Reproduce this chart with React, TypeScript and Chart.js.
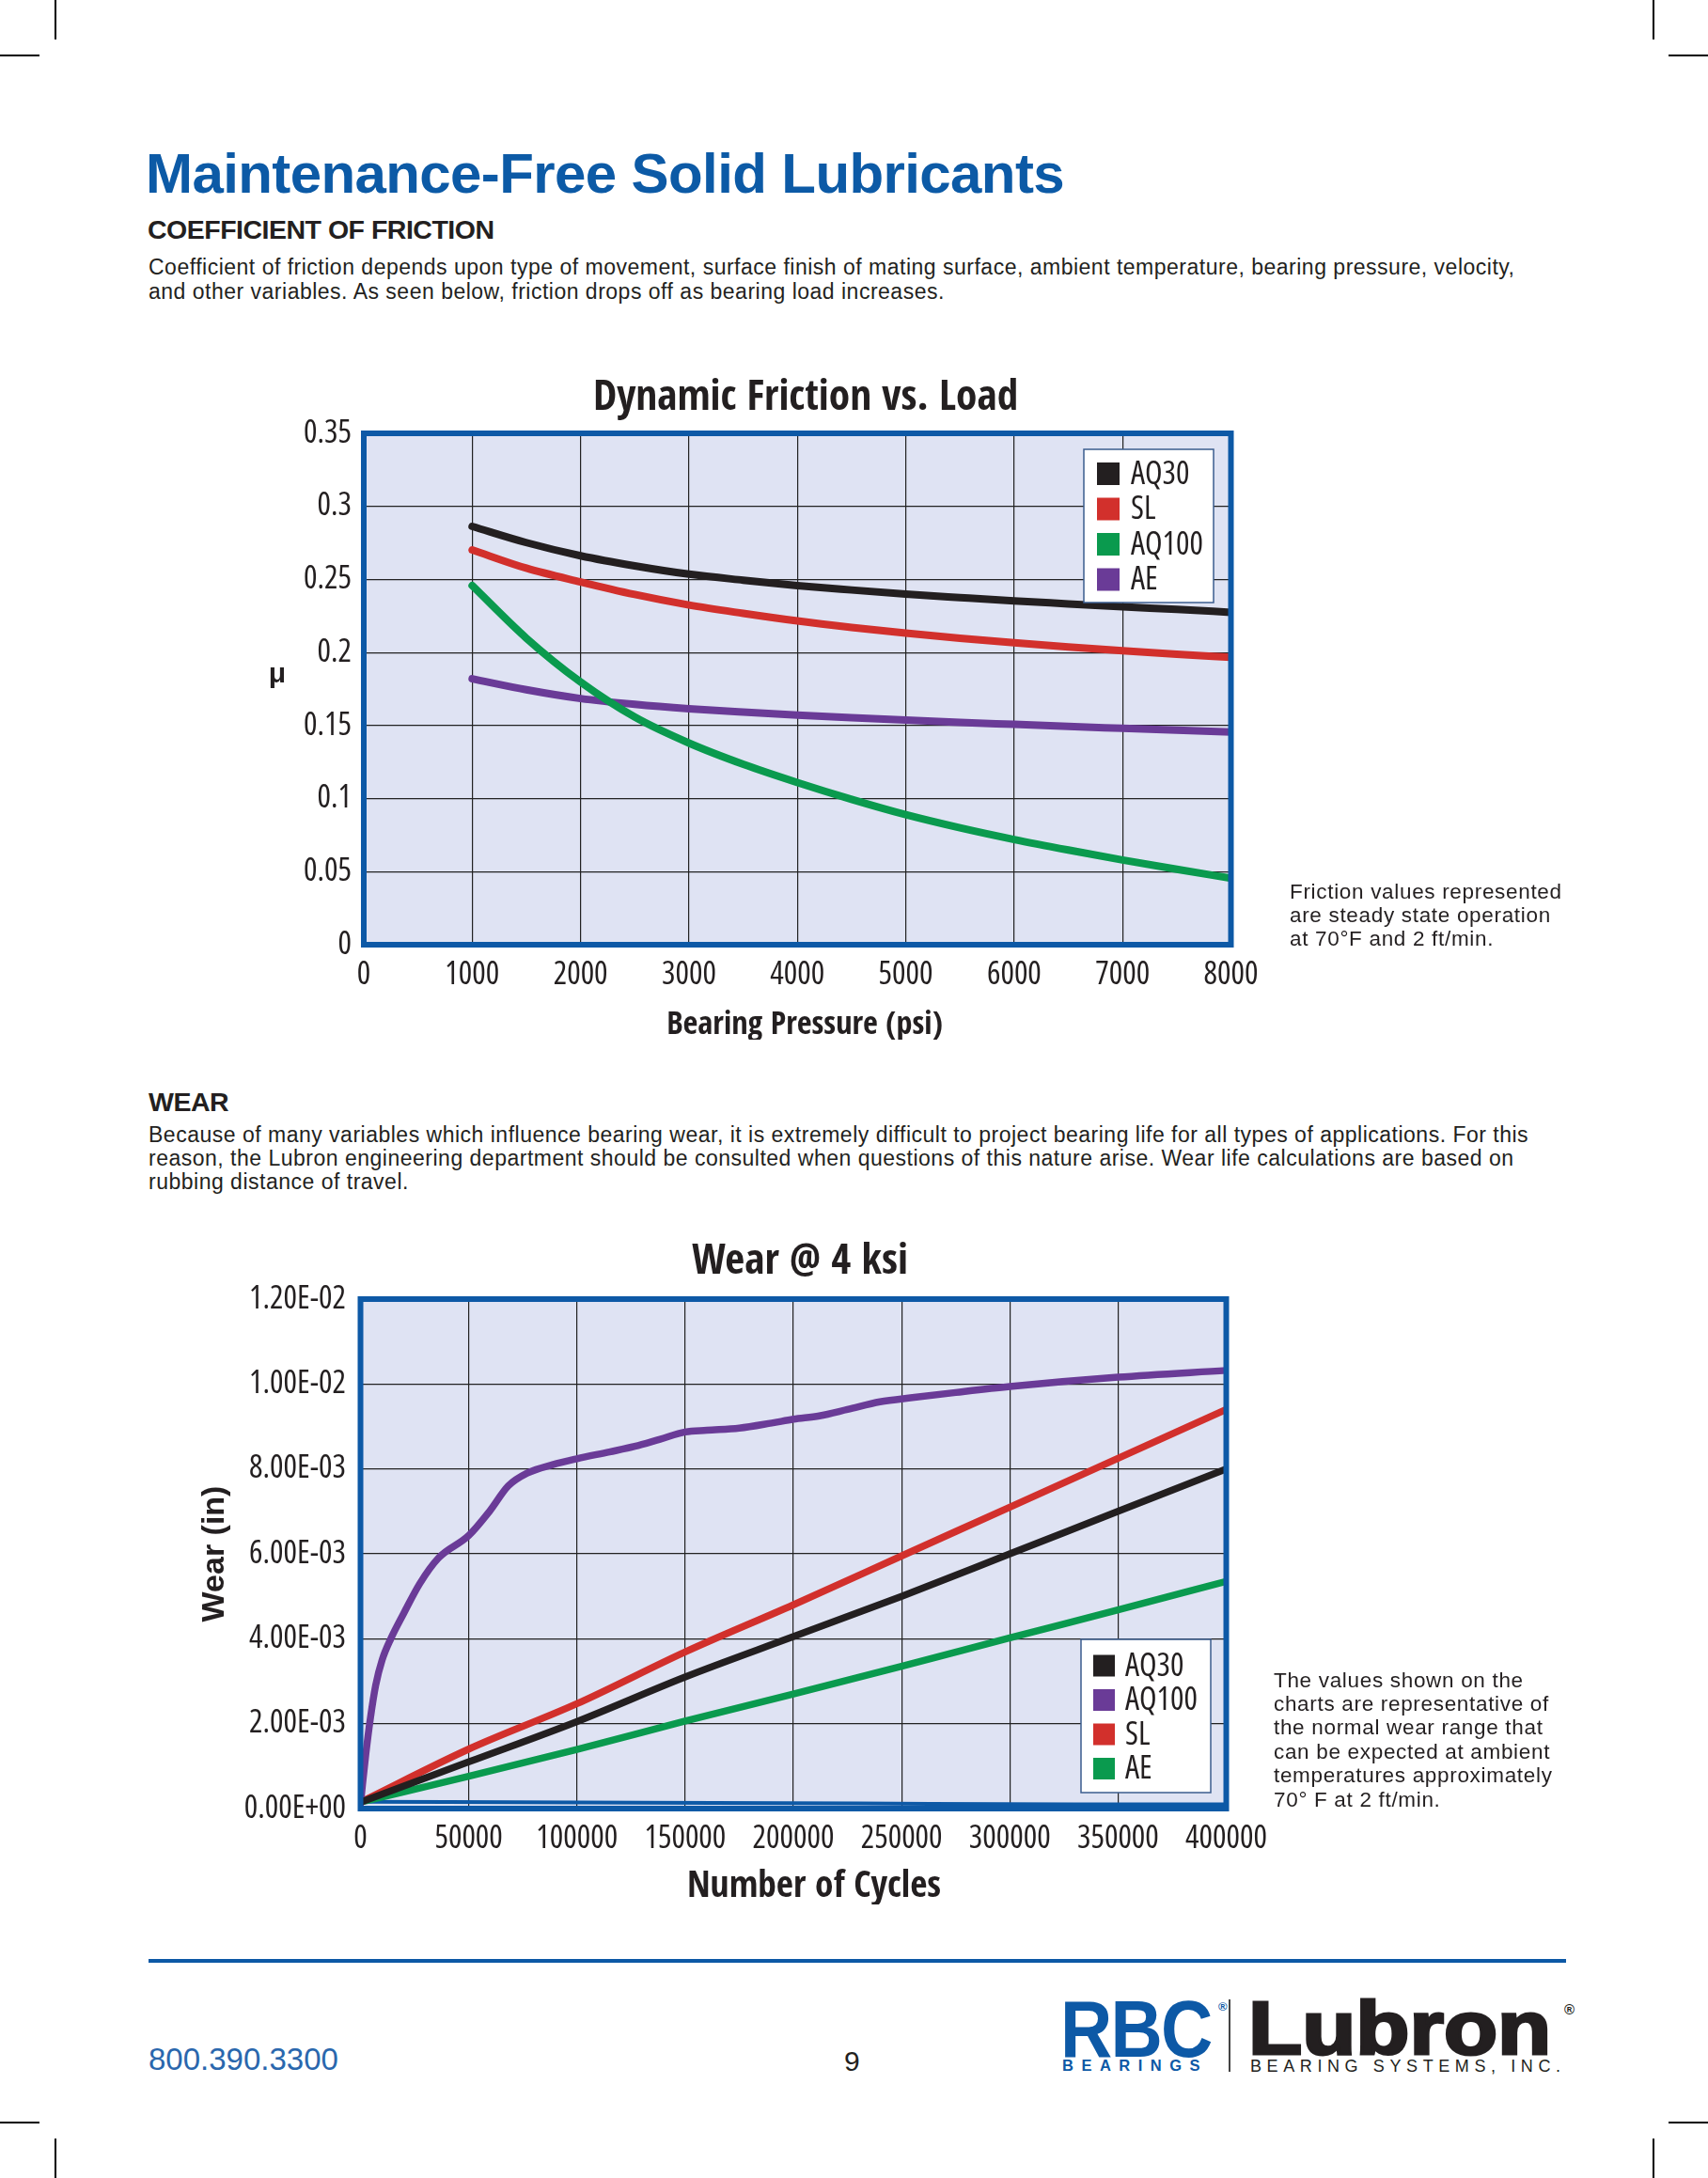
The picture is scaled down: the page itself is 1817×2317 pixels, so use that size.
import React, { useEffect, useRef } from 'react';
import { Chart, registerables } from 'chart.js';

Chart.register(...registerables);

const SANS = "'Liberation Sans', Arial, Helvetica, sans-serif";

const INK = '#231f20';
const BLUE = '#0d59a6';
const PLOT_BG = '#dfe3f3';
const GRID = '#222222';
const C_BLACK = '#231f20';
const C_RED = '#d2302c';
const C_GREEN = '#0a9a4e';
const C_PURPLE = '#6a3b97';

// ---------------- Chart 1: Dynamic Friction vs. Load ----------------
const frictionTitle = 'Dynamic Friction vs. Load';
const frictionXTitle = 'Bearing Pressure (psi)';
const frictionYTitle = 'μ';
const frictionPressure = [1000, 1500, 2000, 2500, 3000, 3500, 4000, 4500, 5000, 5500, 6000, 6500, 7000, 7500, 8000];
const frictionAQ30 = [0.2863, 0.2752, 0.2662, 0.2593, 0.2536, 0.2495, 0.2458, 0.2428, 0.2400, 0.2376, 0.2353, 0.2333, 0.2313, 0.2295, 0.2275];
const frictionSL = [0.2702, 0.2577, 0.2483, 0.2397, 0.2325, 0.2268, 0.2216, 0.2172, 0.2133, 0.2098, 0.2067, 0.2038, 0.2012, 0.1988, 0.1967];
const frictionAQ100 = [0.2458, 0.2098, 0.1798, 0.1558, 0.1380, 0.1235, 0.1110, 0.0995, 0.0890, 0.0800, 0.0720, 0.0648, 0.0580, 0.0516, 0.0455];
const frictionAE = [0.1820, 0.1745, 0.1685, 0.1645, 0.1615, 0.1592, 0.1572, 0.1554, 0.1537, 0.1522, 0.1508, 0.1494, 0.1481, 0.1468, 0.1455];
const frictionXTicks = [0, 1000, 2000, 3000, 4000, 5000, 6000, 7000, 8000];
const frictionXTickLabels = ['0', '1000', '2000', '3000', '4000', '5000', '6000', '7000', '8000'];
const frictionYTicks = [0, 0.05, 0.1, 0.15, 0.2, 0.25, 0.3, 0.35];
const frictionYTickLabels = ['0', '0.05', '0.1', '0.15', '0.2', '0.25', '0.3', '0.35'];

// ---------------- Chart 2: Wear @ 4 ksi ----------------
const wearTitle = 'Wear @ 4 ksi';
const wearXTitle = 'Number of Cycles';
const wearYTitle = 'Wear (in)';
const wearCycles = [0, 50000, 100000, 150000, 200000, 250000, 300000, 350000, 400000];
const wearAQ30 = [0.00015, 0.0011, 0.00205, 0.0031, 0.00405, 0.0050, 0.0060, 0.0070, 0.0080];
const wearSL = [0.00015, 0.0014, 0.00247, 0.00369, 0.0048, 0.00595, 0.0071, 0.00825, 0.0094];
const wearAE = [0.00015, 0.00076, 0.00139, 0.00206, 0.0027, 0.00335, 0.00402, 0.00468, 0.00535];
const wearAQ100Cycles = [0, 1000, 2500, 4500, 7000, 10000, 14000, 20000, 27400, 36000, 50000, 59600, 68300, 77000, 88800, 100000, 115000, 126700, 138400, 150000, 160000, 175000, 190000, 200000, 212000, 225000, 240000, 255000, 275000, 300000, 350000, 400000];
const wearAQ100 = [0.0001, 0.0006, 0.0013, 0.0021, 0.0029, 0.0035, 0.0040, 0.0046, 0.0053, 0.0059, 0.00643, 0.0070, 0.0076, 0.0079, 0.0081, 0.00824, 0.0084, 0.00853, 0.0087, 0.00887, 0.00891, 0.00896, 0.00908, 0.00917, 0.00925, 0.0094, 0.00958, 0.00968, 0.0098, 0.00994, 0.01016, 0.01032];
const wearBaseCycles = [0, 130000, 230000, 330000, 400000];
const wearBase = [0.00016, 0.00014, 0.00012, 0.0001, 0.0001];
const wearXTicks = [0, 50000, 100000, 150000, 200000, 250000, 300000, 350000, 400000];
const wearXTickLabels = ['0', '50000', '100000', '150000', '200000', '250000', '300000', '350000', '400000'];
const wearYTicks = [0, 0.002, 0.004, 0.006, 0.008, 0.01, 0.012];
const wearYTickLabels = ['0.00E+00', '2.00E-03', '4.00E-03', '6.00E-03', '8.00E-03', '1.00E-02', '1.20E-02'];

const pts = (xs: number[], ys: number[]) => xs.map((x, i) => ({ x, y: ys[i] }));

type FontPick = { family: string; pre: string };

function pickCondensed(bold: boolean): FontPick {
  const ctx = document.createElement('canvas').getContext('2d') as CanvasRenderingContext2D;
  const sample = 'Dynamic Friction 0123456789 AQ100';
  const meas = (f: string) => {
    ctx.font = '10px monospace';
    ctx.font = f;
    return ctx.measureText(sample).width;
  };
  const wt = bold ? 'bold' : 'normal';
  const base = meas(`${wt} 50px 'Liberation Sans'`);
  const monoB = meas('bold 50px monospace');
  const monoN = meas('normal 50px monospace');
  const cands: [string, string][] = [
    ["'Liberation Sans Narrow'", ''],
    ["'Arial Narrow'", ''],
    ["'Nimbus Sans Narrow'", ''],
    ["'Noto Sans Condensed'", ''],
    ["'Noto Sans'", 'condensed '],
    ["'Roboto Condensed'", ''],
    ["'Roboto'", 'condensed '],
    ["'Open Sans Condensed'", ''],
    ["'Open Sans'", 'condensed '],
    ["'DejaVu Sans Condensed'", ''],
    ["'DejaVu Sans'", 'condensed '],
  ];
  let best: FontPick = { family: "'Liberation Sans', sans-serif", pre: '' };
  let bestW = base;
  for (const [fam, pre] of cands) {
    const wb = meas(`${pre}bold 50px ${fam}, monospace`);
    const wn = meas(`${pre}normal 50px ${fam}, monospace`);
    if (Math.abs(wb - monoB) < 0.5 || Math.abs(wn - monoN) < 0.5) continue;
    if (wb < base * 0.5 || wn < base * 0.5) continue;
    if (!bold && !(wn < wb * 0.985)) continue;
    const w = bold ? wb : wn;
    if (w < bestW * 0.99) {
      bestW = w;
      best = { family: `${fam}, 'Liberation Sans', sans-serif`, pre };
    }
  }
  return best;
}

function fontStr(fp: FontPick, bold: boolean, size: number) {
  return `${fp.pre}${bold ? 'bold' : 'normal'} ${size}px ${fp.family}`;
}

function fitSize(fp: FontPick, bold: boolean, text: string, target: number) {
  const ctx = document.createElement('canvas').getContext('2d') as CanvasRenderingContext2D;
  ctx.font = fontStr(fp, bold, 50);
  const w = ctx.measureText(text).width;
  return Math.round(((50 * target) / w) * 10) / 10;
}

const plotFrame = {
  id: 'plotFrame',
  beforeDraw(chart: any, _args: any, opts: any) {
    const { ctx, chartArea: a } = chart;
    ctx.save();
    ctx.fillStyle = opts.bg;
    ctx.fillRect(a.left, a.top, a.right - a.left, a.bottom - a.top);
    ctx.restore();
  },
  afterDatasetsDraw(chart: any, _args: any, opts: any) {
    const { ctx, chartArea: a } = chart;
    ctx.save();
    ctx.strokeStyle = opts.border;
    ctx.lineWidth = opts.borderWidth;
    ctx.strokeRect(a.left, a.top, a.right - a.left, a.bottom - a.top);
    const L = opts.legend;
    const bx = a.right + L.dxRight;
    const by = L.fromBottom != null ? a.bottom - L.fromBottom : a.top + L.fromTop;
    ctx.fillStyle = '#ffffff';
    ctx.fillRect(bx, by, L.w, L.h);
    ctx.strokeStyle = L.borderColor;
    ctx.lineWidth = 1.5;
    ctx.strokeRect(bx, by, L.w, L.h);
    ctx.font = L.font;
    ctx.textBaseline = 'middle';
    ctx.textAlign = 'left';
    chart.data.datasets
      .filter((d: any) => d.label)
      .forEach((d: any, i: number) => {
        const cy = by + L.firstY + i * L.step;
        ctx.fillStyle = d.borderColor;
        ctx.fillRect(bx + L.boxX, cy - L.box / 2, L.box, L.box);
        ctx.fillStyle = INK;
        ctx.fillText(d.label, bx + L.textX, cy + 1);
      });
    (opts.texts || []).forEach((t: any) => {
      ctx.fillStyle = INK;
      ctx.font = t.font;
      ctx.textAlign = 'center';
      ctx.textBaseline = 'middle';
      ctx.fillText(t.text, t.x, t.y);
    });
    ctx.restore();
  },
};

function axisX(fp: FontPick, tickSize: number, min: number, max: number, ticks: number[], labels: string[], height: number) {
  return {
    type: 'linear',
    min,
    max,
    afterBuildTicks: (s: any) => {
      s.ticks = ticks.map((value) => ({ value }));
    },
    afterFit: (s: any) => {
      s.height = height;
    },
    ticks: {
      autoSkip: false,
      maxRotation: 0,
      padding: 32 - tickSize * 0.6,
      color: INK,
      font: { family: fp.family, size: tickSize, weight: fp.pre + 'normal', lineHeight: 1.2 },
      callback: (_v: any, i: number) => labels[i],
    },
    grid: { color: GRID, lineWidth: 1.2, drawTicks: false },
    border: { display: false },
    title: { display: false },
  };
}

function axisY(fp: FontPick, tickSize: number, min: number, max: number, ticks: number[], labels: string[], width: number, pad: number, title?: any) {
  return {
    type: 'linear',
    min,
    max,
    afterBuildTicks: (s: any) => {
      s.ticks = ticks.map((value) => ({ value }));
    },
    afterFit: (s: any) => {
      s.width = width;
    },
    ticks: {
      autoSkip: false,
      padding: pad,
      color: INK,
      font: { family: fp.family, size: tickSize, weight: fp.pre + 'normal', lineHeight: 1.2 },
      callback: (_v: any, i: number) => labels[i],
    },
    grid: { color: GRID, lineWidth: 1.2, drawTicks: false },
    border: { display: false },
    title: title || { display: false },
  };
}

const lineDs = (label: string, data: any[], color: string, width = 8) => ({
  label,
  data,
  borderColor: color,
  backgroundColor: color,
  borderWidth: width,
  pointRadius: 0,
  cubicInterpolationMode: 'monotone',
  borderCapStyle: 'round',
  fill: false,
});

export default function App() {
  const c1 = useRef<HTMLCanvasElement>(null);
  const c2 = useRef<HTMLCanvasElement>(null);

  useEffect(() => {
    const fb = pickCondensed(true);
    const fr = pickCondensed(false);
    const tickSize = fitSize(fr, false, '1000', 58);
    const t1Size = fitSize(fb, true, frictionTitle, 452);
    const t2Size = fitSize(fb, true, wearTitle, 230);
    const x1Size = fitSize(fb, true, frictionXTitle, 294);
    const x2Size = fitSize(fb, true, wearXTitle, 270);
    const legSize = fitSize(fr, false, 'AQ100', 77);
    const legFont = fontStr(fr, false, legSize);

    const ch1 = new Chart(c1.current as HTMLCanvasElement, {
      type: 'line',
      data: {
        datasets: [
          lineDs('AQ30', pts(frictionPressure, frictionAQ30), C_BLACK),
          lineDs('SL', pts(frictionPressure, frictionSL), C_RED),
          lineDs('AQ100', pts(frictionPressure, frictionAQ100), C_GREEN),
          lineDs('AE', pts(frictionPressure, frictionAE), C_PURPLE),
        ],
      } as any,
      options: {
        animation: false,
        responsive: false,
        maintainAspectRatio: false,
        events: [],
        layout: { padding: { left: 0, right: 147.5, top: 81, bottom: 0 } },
        scales: {
          x: axisX(fr, tickSize, 0, 8000, frictionXTicks, frictionXTickLabels, 101),
          y: axisY(fr, tickSize, 0, 0.35, frictionYTicks, frictionYTickLabels, 130, 13),
        } as any,
        plugins: {
          legend: { display: false },
          tooltip: { enabled: false },
          title: { display: false },
          plotFrame: {
            bg: PLOT_BG,
            border: BLUE,
            borderWidth: 6,
            legend: { dxRight: -156.5, fromTop: 17, w: 138, h: 163, firstY: 26, step: 37.5, box: 24, boxX: 14, textX: 50, font: legFont, borderColor: '#3b5d8f' },
            texts: [
              { text: frictionTitle, x: 600, y: 44, font: fontStr(fb, true, t1Size) },
              { text: frictionXTitle, x: 599, y: 711, font: fontStr(fb, true, x1Size) },
              { text: frictionYTitle, x: 38, y: 338, font: `bold 30px ${SANS}` },
            ],
          },
        } as any,
      },
      plugins: [plotFrame as any],
    });

    const ch2 = new Chart(c2.current as HTMLCanvasElement, {
      type: 'line',
      data: {
        datasets: [
          lineDs('AQ30', pts(wearCycles, wearAQ30), C_BLACK, 7.5),
          lineDs('AQ100', pts(wearAQ100Cycles, wearAQ100), C_PURPLE, 7.5),
          lineDs('SL', pts(wearCycles, wearSL), C_RED, 7.5),
          lineDs('AE', pts(wearCycles, wearAE), C_GREEN, 7.5),
          lineDs('', pts(wearBaseCycles, wearBase), BLUE, 4),
        ],
      } as any,
      options: {
        animation: false,
        responsive: false,
        maintainAspectRatio: false,
        events: [],
        layout: { padding: { left: 0, right: 246.5, top: 92, bottom: 0 } },
        scales: {
          x: axisX(fr, tickSize, 0, 400000, wearXTicks, wearXTickLabels, 102),
          y: axisY(fr, tickSize, 0, 0.012, wearYTicks, wearYTickLabels, 232.5, 15.5, {
            display: true,
            text: wearYTitle,
            color: INK,
            font: { family: SANS, size: 34, weight: 'bold', lineHeight: 1.2 },
            padding: { top: 57.6, bottom: 0 },
          }),
        } as any,
        plugins: {
          legend: { display: false },
          tooltip: { enabled: false },
          title: { display: false },
          plotFrame: {
            bg: PLOT_BG,
            border: BLUE,
            borderWidth: 6,
            legend: { dxRight: -154.5, fromBottom: 180, w: 138, h: 163, firstY: 28, step: 36.5, box: 23, boxX: 13, textX: 47, font: legFont, borderColor: '#3b5d8f' },
            texts: [
              { text: wearTitle, x: 700, y: 53.5, font: fontStr(fb, true, t2Size) },
              { text: wearXTitle, x: 715, y: 718, font: fontStr(fb, true, x2Size) },
            ],
          },
        } as any,
      },
      plugins: [plotFrame as any],
    });

    return () => {
      ch1.destroy();
      ch2.destroy();
    };
  }, []);

  const abs = (extra: React.CSSProperties): React.CSSProperties => ({ position: 'absolute', whiteSpace: 'pre', margin: 0, ...extra });
  const mark = (l: number, t: number, w: number, h: number) => (
    <div style={{ position: 'absolute', left: l, top: t, width: w, height: h, background: '#000' }} />
  );

  return (
    <div style={{ position: 'absolute', left: 0, top: 0, width: 1817, height: 2317, background: '#fff', overflow: 'hidden', fontFamily: SANS, color: INK }}>
      {mark(58, 0, 1.5, 42)}
      {mark(0, 58, 42, 1.5)}
      {mark(1758, 0, 1.5, 42)}
      {mark(1775, 58, 42, 1.5)}
      {mark(58, 2275, 1.5, 42)}
      {mark(0, 2257, 42, 1.5)}
      {mark(1758, 2275, 1.5, 42)}
      {mark(1775, 2257, 42, 1.5)}

      <div style={abs({ left: 155, top: 155, fontSize: 60, lineHeight: '60px', fontWeight: 700, color: '#0c5aa6', letterSpacing: -0.6 })}>Maintenance-Free Solid Lubricants</div>
      <div style={abs({ left: 157, top: 230, fontSize: 28.5, lineHeight: '28.5px', fontWeight: 700, letterSpacing: -0.5 })}>COEFFICIENT OF FRICTION</div>
      <div style={abs({ left: 158, top: 270.5, fontSize: 23, lineHeight: '26px', letterSpacing: 0.5 })}>
        {'Coefficient of friction depends upon type of movement, surface finish of mating surface, ambient temperature, bearing pressure, velocity,\nand other variables. As seen below, friction drops off as bearing load increases.'}
      </div>

      <canvas ref={c1} width={1200} height={726} style={{ position: 'absolute', left: 257, top: 380, width: 1200, height: 726 }} />

      <div style={abs({ left: 1372, top: 935.5, fontSize: 22.5, lineHeight: '25px', letterSpacing: 0.68 })}>
        {'Friction values represented\nare steady state operation\nat 70°F and 2 ft/min.'}
      </div>

      <div style={abs({ left: 158, top: 1157.5, fontSize: 28.5, lineHeight: '28.5px', fontWeight: 700, letterSpacing: -0.5 })}>WEAR</div>
      <div style={abs({ left: 158, top: 1194.6, fontSize: 23, lineHeight: '25.3px', letterSpacing: 0.5 })}>
        {'Because of many variables which influence bearing wear, it is extremely difficult to project bearing life for all types of applications. For this\nreason, the Lubron engineering department should be consulted when questions of this nature arise. Wear life calculations are based on\nrubbing distance of travel.'}
      </div>

      <canvas ref={c2} width={1400} height={736} style={{ position: 'absolute', left: 151, top: 1290, width: 1400, height: 736 }} />

      <div style={abs({ left: 1355, top: 1774.5, fontSize: 22.5, lineHeight: '25.4px', letterSpacing: 0.68 })}>
        {'The values shown on the\ncharts are representative of\nthe normal wear range that\ncan be expected at ambient\ntemperatures approximately\n70° F at 2 ft/min.'}
      </div>

      <div style={{ position: 'absolute', left: 158, top: 2084, width: 1508, height: 4, background: BLUE }} />
      <div style={abs({ left: 158, top: 2174, fontSize: 33, lineHeight: '33px', color: '#2a67ad' })}>800.390.3300</div>
      <div style={abs({ left: 898, top: 2178, fontSize: 30, lineHeight: '30px' })}>9</div>

      <div style={abs({ left: 1128, top: 2116, fontSize: 85, lineHeight: '85px', fontWeight: 700, color: BLUE, transform: 'scaleX(0.9)', transformOrigin: 'left top', letterSpacing: -2 })}>RBC</div>
      <div style={abs({ left: 1296, top: 2128, fontSize: 13, lineHeight: '13px', fontWeight: 700, color: BLUE })}>®</div>
      <div style={abs({ left: 1130, top: 2189, fontSize: 16.5, lineHeight: '16.5px', fontWeight: 700, color: BLUE, letterSpacing: 8.5 })}>BEARINGS</div>
      <div style={{ position: 'absolute', left: 1307, top: 2127, width: 1.5, height: 77, background: '#444' }} />
      <div style={abs({ left: 1328, top: 2118, fontSize: 80, lineHeight: '80px', fontWeight: 700, color: INK, transform: 'scaleX(1.17)', transformOrigin: 'left top', WebkitTextStroke: '3px #231f20' } as any)}>Lubron</div>
      <div style={abs({ left: 1664, top: 2130, fontSize: 15, lineHeight: '15px', fontWeight: 700, color: INK })}>®</div>
      <div style={abs({ left: 1330, top: 2189, fontSize: 18, lineHeight: '18px', color: INK, letterSpacing: 5.6 })}>BEARING SYSTEMS, INC.</div>
    </div>
  );
}
